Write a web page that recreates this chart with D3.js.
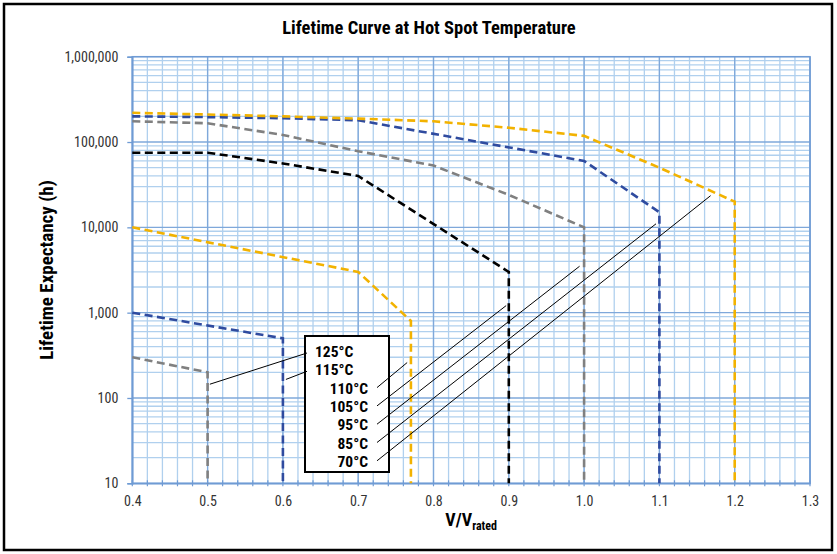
<!DOCTYPE html>
<html>
<head>
<meta charset="utf-8">
<script src="https://cdn.jsdelivr.net/npm/d3@7"></script>
<style>
  body { margin: 0; background: #fff; }
  text { font-family: "Liberation Sans Narrow", "Roboto Condensed", "DejaVu Sans Condensed", sans-serif; }
</style>
</head>
<body>
<div id="viz"></div>
<script>
// Datos (V/Vrated, horas)
var temps = ['125°C', '115°C', '110°C', '105°C', '95°C', '85°C', '70°C'];

var v125 = [0.4, 0.5, 0.5];
var h125 = [300, 200, 10];
var v115 = [0.4, 0.6, 0.6];
var h115 = [1000, 500, 10];
var v110 = [0.4, 0.7, 0.77, 0.77];
var h110 = [10000, 3000, 800, 10];
var v105 = [0.4, 0.5, 0.6, 0.7, 0.9, 0.9];
var h105 = [75000, 75000, 56000, 40000, 3000, 10];
var v95 = [0.4, 0.5, 0.6, 0.7, 0.8, 0.9, 1.0, 1.0];
var h95 = [175000, 166000, 121000, 78000, 53000, 24000, 10000, 10];
var v85 = [0.4, 0.5, 0.6, 0.7, 1.0, 1.1, 1.1];
var h85 = [200000, 196000, 190000, 180000, 60000, 15000, 10];
var v70 = [0.4, 0.5, 0.6, 0.7, 0.8, 0.9, 1.0, 1.1, 1.2, 1.2];
var h70 = [220000, 210000, 200000, 188000, 175000, 147000, 118000, 50000, 20000, 10];

// Punto donde termina cada linea guia (sobre la curva)
var guiaV = [0.503, 0.604, 0.765, 0.8965, 0.994, 1.0955, 1.168];
var guiaH = [145, 165, 260, 1210, 3500, 11000, 23500];

var xTicks = [0.4, 0.5, 0.6, 0.7, 0.8, 0.9, 1.0, 1.1, 1.2, 1.3];
var yTicks = [10, 100, 1000, 10000, 100000, 1000000];

var series = [
  {v: v125, h: h125, color: '#808080'},
  {v: v115, h: h115, color: '#2f4b9f'},
  {v: v110, h: h110, color: '#f2b200'},
  {v: v105, h: h105, color: '#000000'},
  {v: v95,  h: h95,  color: '#808080'},
  {v: v85,  h: h85,  color: '#2f4b9f'},
  {v: v70,  h: h70,  color: '#f2b200'}
];

var width = 837, height = 554;
var x = d3.scaleLinear().domain([0.4, 1.3]).range([132.3, 810]);
var y = d3.scaleLog().domain([10, 1000000]).range([483.3, 56.7]);

var svg = d3.select('#viz').append('svg')
  .attr('width', width)
  .attr('height', height);

// Borde exterior
svg.append('rect')
  .attr('x', 4).attr('y', 4)
  .attr('width', 828).attr('height', 546)
  .attr('fill', '#fff')
  .attr('stroke', '#000')
  .attr('stroke-width', 2.5);

var gGrid = svg.append('g');

// Grilla vertical (menor cada 0.02)
var vMenor = d3.range(0, 46).map(function (i) { return 0.4 + i * 0.02; });
gGrid.selectAll('.vmin').data(vMenor).enter().append('line')
  .attr('x1', function (d) { return x(d); })
  .attr('x2', function (d) { return x(d); })
  .attr('y1', y(1000000)).attr('y2', y(10))
  .attr('stroke', '#b0d0ee').attr('stroke-width', 1.3);

// Grilla horizontal menor (2..9 en cada decada)
var hMenor = [];
yTicks.slice(0, -1).forEach(function (d) {
  for (var k = 2; k < 10; k++) hMenor.push(d * k);
});
gGrid.selectAll('.hmin').data(hMenor).enter().append('line')
  .attr('x1', x(0.4)).attr('x2', x(1.3))
  .attr('y1', function (d) { return y(d); })
  .attr('y2', function (d) { return y(d); })
  .attr('stroke', '#b0d0ee').attr('stroke-width', 1.3);

// Grilla mayor
gGrid.selectAll('.vmaj').data(xTicks).enter().append('line')
  .attr('x1', function (d) { return x(d); })
  .attr('x2', function (d) { return x(d); })
  .attr('y1', y(1000000)).attr('y2', y(10))
  .attr('stroke', '#7fa8da').attr('stroke-width', 1.3);
gGrid.selectAll('.hmaj').data(yTicks).enter().append('line')
  .attr('x1', x(0.4)).attr('x2', x(1.3))
  .attr('y1', function (d) { return y(d); })
  .attr('y2', function (d) { return y(d); })
  .attr('stroke', '#7fa8da').attr('stroke-width', 1.3);

// Ejes
var ejeX = svg.append('g')
  .attr('transform', 'translate(0,' + y(10) + ')')
  .call(d3.axisBottom(x).tickValues(xTicks).tickFormat(d3.format('.1f')).tickSize(0).tickPadding(13));
var ejeY = svg.append('g')
  .attr('transform', 'translate(' + x(0.4) + ',0)')
  .call(d3.axisLeft(y).tickValues(yTicks).tickFormat(d3.format(',')).tickSize(5).tickPadding(9));

[ejeX, ejeY].forEach(function (g) {
  g.select('.domain').attr('stroke', '#6f9bd4').attr('stroke-width', 1.5);
  g.selectAll('.tick line').attr('stroke', '#6f9bd4').attr('stroke-width', 1.3);
  g.selectAll('.tick text')
    .style('font-size', '14px')
    .attr('fill', '#333');
});

// Marcas menores del eje X
svg.append('g').selectAll('line').data(vMenor).enter().append('line')
  .attr('x1', function (d) { return x(d); })
  .attr('x2', function (d) { return x(d); })
  .attr('y1', y(10) - 3).attr('y2', y(10) + 3)
  .attr('stroke', '#6f9bd4').attr('stroke-width', 1.2);

// Borde superior y derecho del area
svg.append('rect')
  .attr('x', x(0.4)).attr('y', y(1000000))
  .attr('width', x(1.3) - x(0.4)).attr('height', y(10) - y(1000000))
  .attr('fill', 'none')
  .attr('stroke', '#6f9bd4').attr('stroke-width', 1.5);

// Curvas
var linea = d3.line()
  .x(function (d) { return x(d[0]); })
  .y(function (d) { return y(d[1]); });

var gCurvas = svg.append('g');
series.forEach(function (s) {
  var pts = s.v.map(function (v, i) { return [v, s.h[i]]; });
  gCurvas.append('path')
    .attr('d', linea(pts))
    .attr('fill', 'none')
    .attr('stroke', s.color)
    .attr('stroke-width', 2.6)
    .attr('stroke-dasharray', '8,4.5');
});

// Caja de leyenda
var caja = {x: 305, y: 336, w: 84, h: 136};
svg.append('rect')
  .attr('x', caja.x).attr('y', caja.y)
  .attr('width', caja.w).attr('height', caja.h)
  .attr('fill', '#fff')
  .attr('stroke', '#000')
  .attr('stroke-width', 2);

var paso = 18.3;
var gLeyenda = svg.append('g');
temps.forEach(function (t, i) {
  var base = caja.y + 21 + i * paso;
  var izq = i < 2;
  gLeyenda.append('text')
    .attr('x', izq ? caja.x + 10 : caja.x + 63)
    .attr('y', base)
    .attr('text-anchor', izq ? 'start' : 'end')
    .style('font-size', '15.5px')
    .style('font-weight', 'bold')
    .text(t);

  // Linea guia desde la etiqueta hasta la curva
  var x0 = izq ? caja.x + 2 : caja.x + 72;
  var y0 = izq ? base - 4 : base - 6;
  gLeyenda.append('line')
    .attr('x1', x0).attr('y1', y0)
    .attr('x2', x(guiaV[i])).attr('y2', y(guiaH[i]))
    .attr('stroke', '#000')
    .attr('stroke-width', 1);
});

// Titulos
svg.append('text')
  .attr('x', 429).attr('y', 34)
  .attr('text-anchor', 'middle')
  .style('font-size', '18.5px')
  .style('font-weight', 'bold')
  .text('Lifetime Curve at Hot Spot Temperature');

svg.append('text')
  .attr('transform', 'translate(53,' + ((y(10) + y(1000000)) / 2) + ') rotate(-90)')
  .attr('text-anchor', 'middle')
  .style('font-size', '19px')
  .style('font-weight', 'bold')
  .text('Lifetime Expectancy (h)');

var tx = svg.append('text')
  .attr('x', (x(0.4) + x(1.3)) / 2).attr('y', 526)
  .attr('text-anchor', 'middle')
  .style('font-size', '18px')
  .style('font-weight', 'bold');
tx.append('tspan').text('V/V');
tx.append('tspan').attr('dy', 4).style('font-size', '12px').text('rated');
</script>
</body>
</html>
